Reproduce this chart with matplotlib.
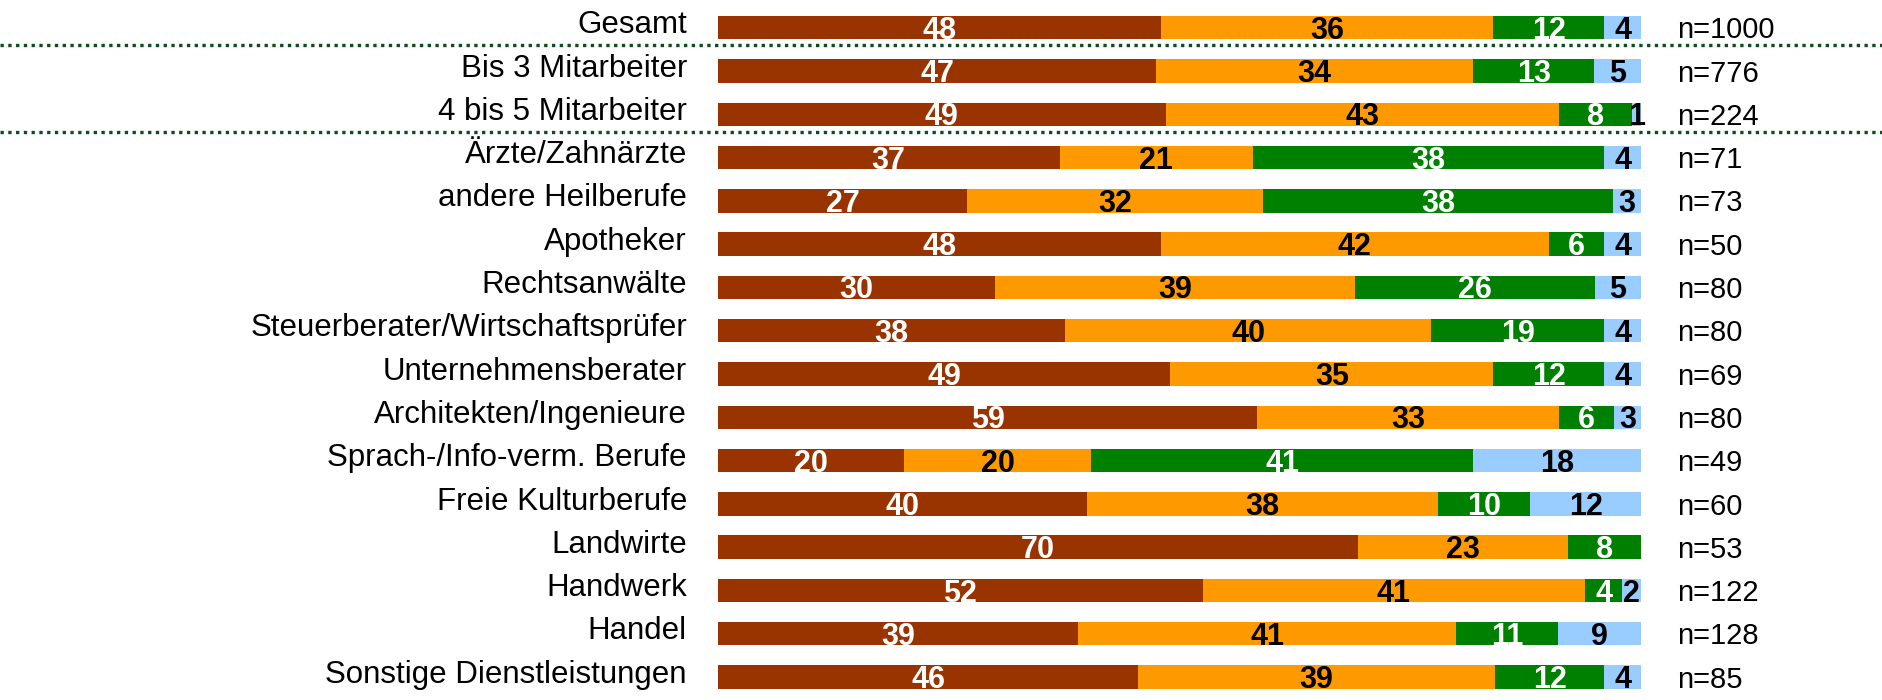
import matplotlib.pyplot as plt
import matplotlib.transforms as mtransforms
import numpy as np

plt.rcParams['font.family'] = ['Liberation Sans', 'DejaVu Sans']

categories = [
    'Gesamt', 'Bis 3 Mitarbeiter', '4 bis 5 Mitarbeiter', 'Ärzte/Zahnärzte',
    'andere Heilberufe', 'Apotheker', 'Rechtsanwälte',
    'Steuerberater/Wirtschaftsprüfer', 'Unternehmensberater',
    'Architekten/Ingenieure', 'Sprach-/Info-verm. Berufe', 'Freie Kulturberufe',
    'Landwirte', 'Handwerk', 'Handel', 'Sonstige Dienstleistungen',
]
s1 = [48, 47, 49, 37, 27, 48, 30, 38, 49, 59, 20, 40, 70, 52, 39, 46]
s2 = [36, 34, 43, 21, 32, 42, 39, 40, 35, 33, 20, 38, 23, 41, 41, 39]
s3 = [12, 13, 8, 38, 38, 6, 26, 19, 12, 6, 41, 10, 8, 4, 11, 12]
s4 = [4, 5, 1, 4, 3, 4, 5, 4, 4, 3, 18, 12, 0, 2, 9, 4]
n_labels = ['n=1000', 'n=776', 'n=224', 'n=71', 'n=73', 'n=50', 'n=80', 'n=80',
            'n=69', 'n=80', 'n=49', 'n=60', 'n=53', 'n=122', 'n=128', 'n=85']

colors = ['#993300', '#FF9900', '#008000', '#99CCFF']
text_colors = ['white', 'black', 'white', 'black']

series = np.array([s1, s2, s3, s4], dtype=float)
totals = series.sum(axis=0)
shares = series / totals * 100

fig = plt.figure(figsize=(18.83, 7), dpi=100)
ax = fig.add_axes([718 / 1883, 0, 923 / 1883, 1])
y = np.arange(len(categories))

left = np.zeros(len(categories))
for k in range(4):
    ax.barh(y, shares[k], left=left, height=0.54, color=colors[k], linewidth=0)
    for i in range(len(categories)):
        if series[k, i] > 0:
            ax.text(left[i] + shares[k, i] / 2, y[i] + 0.255, f'{int(series[k, i])}',
                    ha='center', va='baseline', color=text_colors[k],
                    fontsize=22, fontweight='bold')
    left += shares[k]

ax.set_xlim(0, 100)
ax.set_ylim(15.53, -0.64)
ax.axis('off')

trans = mtransforms.blended_transform_factory(fig.transFigure, ax.transData)
for i, cat in enumerate(categories):
    ax.text(687 / 1883, i + 0.13, cat, transform=trans, ha='right', va='baseline',
            fontsize=22.5, color='black')
    ax.text(1677 / 1883, i + 0.245, n_labels[i], transform=trans, ha='left',
            va='baseline', fontsize=21, color='black')

# dotted separators across the whole width
for ysep in [0.39, 2.40]:
    ax.plot([0, 1], [ysep, ysep], transform=trans, color='#0b4d1e', lw=2.4,
            linestyle=(0, (1, 1.33)), clip_on=False, solid_capstyle='butt',
            dash_capstyle='butt')

fig.savefig('out.png', dpi=100)
